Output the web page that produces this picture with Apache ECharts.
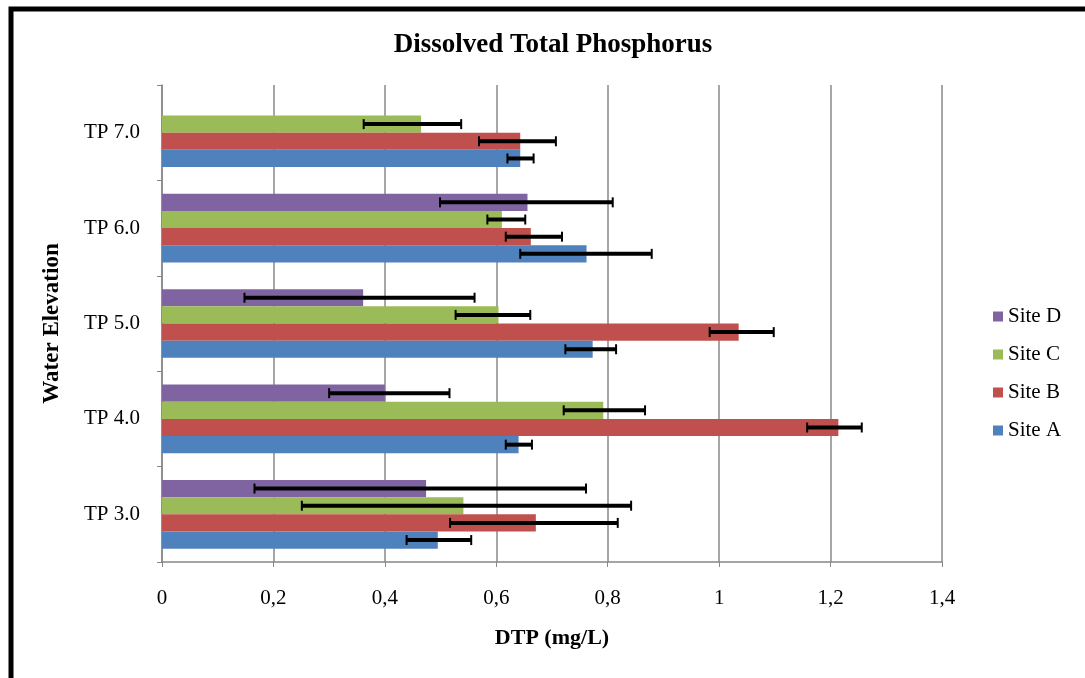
<!DOCTYPE html>
<html>
<head>
<meta charset="utf-8">
<title>Dissolved Total Phosphorus</title>
<script src="https://cdn.jsdelivr.net/npm/echarts@6/dist/echarts.min.js"></script>
<style>
  html, body { margin: 0; padding: 0; background: #fff; }
  #chart { width: 1085px; height: 678px; }
</style>
</head>
<body>
<div id="chart"></div>
<script>
  // categories, bottom to top
  var categories = ['TP 3.0', 'TP 4.0', 'TP 5.0', 'TP 6.0', 'TP 7.0']
  var xTicks = [0, 0.2, 0.4, 0.6, 0.8, 1, 1.2, 1.4]

  // DTP mean values (mg/L)
  var siteA = [0.495, 0.640, 0.773, 0.762, 0.643]
  var siteB = [0.671, 1.214, 1.035, 0.662, 0.643]
  var siteC = [0.541, 0.792, 0.604, 0.610, 0.465]
  var siteD = [0.474, 0.400, 0.361, 0.656, null]

  // error bar ends (low / high)
  var siteALow = [0.439, 0.617, 0.724, 0.643, 0.620]
  var siteAHigh = [0.555, 0.664, 0.815, 0.879, 0.667]
  var siteBLow = [0.517, 1.158, 0.983, 0.617, 0.569]
  var siteBHigh = [0.818, 1.256, 1.098, 0.718, 0.707]
  var siteCLow = [0.251, 0.721, 0.527, 0.584, 0.362]
  var siteCHigh = [0.842, 0.867, 0.661, 0.652, 0.537]
  var siteDLow = [0.166, 0.300, 0.148, 0.499, null]
  var siteDHigh = [0.761, 0.516, 0.561, 0.809, null]

  // top to bottom inside each group (ECharts puts the first bar series on top)
  var sites = [
    {name: 'Site D', color: '#8064A2', values: siteD, low: siteDLow, high: siteDHigh},
    {name: 'Site C', color: '#9BBB59', values: siteC, low: siteCLow, high: siteCHigh},
    {name: 'Site B', color: '#C0504D', values: siteB, low: siteBLow, high: siteBHigh},
    {name: 'Site A', color: '#4F81BD', values: siteA, low: siteALow, high: siteAHigh}
  ]

  var serif = '"Liberation Serif", "DejaVu Serif", serif'
  var groupShare = 0.72 // 1 - barCategoryGap

  function errorRenderer (k) {
    return function (params, api) {
      var cat = api.value(0)
      var p0 = api.coord([api.value(1), cat])
      var p1 = api.coord([api.value(2), cat])
      var band = api.size([0, 1])[1]
      var barW = band * groupShare / sites.length
      var y = p0[1] - band * groupShare / 2 + (k + 0.5) * barW
      var style = {stroke: '#000', lineWidth: 4}
      var capStyle = {stroke: '#000', lineWidth: 2}
      return {
        type: 'group',
        children: [
          {type: 'line', shape: {x1: p0[0], y1: y, x2: p1[0], y2: y}, style: style},
          {type: 'line', shape: {x1: p0[0], y1: y - 5, x2: p0[0], y2: y + 5}, style: capStyle},
          {type: 'line', shape: {x1: p1[0], y1: y - 5, x2: p1[0], y2: y + 5}, style: capStyle}
        ]
      }
    }
  }

  var series = []
  sites.forEach(function (s) {
    series.push({
      name: s.name,
      type: 'bar',
      data: s.values,
      barGap: '0%',
      barCategoryGap: '28%',
      itemStyle: {color: s.color},
      emphasis: {disabled: true}
    })
  })
  sites.forEach(function (s, k) {
    var errData = []
    s.low.forEach(function (lo, i) {
      if (lo !== null) errData.push([i, lo, s.high[i]])
    })
    series.push({
      name: s.name + ' error',
      type: 'custom',
      renderItem: errorRenderer(k),
      encode: {x: [1, 2], y: 0},
      data: errData,
      z: 5,
      silent: true
    })
  })

  var option = {
    backgroundColor: '#fff',
    animation: false,
    title: {
      text: 'Dissolved Total Phosphorus',
      left: 548,
      top: 27,
      textAlign: 'center',
      textStyle: {fontFamily: serif, fontWeight: 'bold', fontSize: 27, color: '#000'}
    },
    legend: {
      data: ['Site D', 'Site C', 'Site B', 'Site A'],
      orient: 'vertical',
      left: 988,
      top: 301,
      icon: 'rect',
      itemWidth: 10,
      itemHeight: 10,
      itemGap: 17,
      textStyle: {fontFamily: serif, fontSize: 21, color: '#000'}
    },
    grid: {left: 162, right: 143, top: 85, bottom: 116},
    xAxis: {
      type: 'value',
      min: 0,
      max: 1.4,
      interval: 0.2,
      name: 'DTP (mg/L)',
      nameLocation: 'middle',
      nameGap: 65,
      nameTextStyle: {fontFamily: serif, fontWeight: 'bold', fontSize: 22, color: '#000'},
      axisLine: {show: true, lineStyle: {color: '#888', width: 1.5}},
      axisTick: {show: true, length: 5, lineStyle: {color: '#888'}},
      axisLabel: {
        fontFamily: serif, fontSize: 21, color: '#000', margin: 26,
        formatter: function (v) { return String(+v.toFixed(1)).replace('.', ',') }
      },
      splitLine: {show: true, lineStyle: {color: '#888', width: 1.5}}
    },
    yAxis: {
      type: 'category',
      data: categories,
      name: 'Water Elevation',
      nameLocation: 'middle',
      nameGap: 98,
      nameRotate: 90,
      nameTextStyle: {fontFamily: serif, fontWeight: 'bold', fontSize: 23, color: '#000'},
      axisLine: {show: true, lineStyle: {color: '#888', width: 1.5}},
      axisTick: {show: true, length: 5, alignWithLabel: false, lineStyle: {color: '#888'}},
      axisLabel: {fontFamily: serif, fontSize: 21, color: '#000', margin: 22}
    },
    graphic: [{
      type: 'rect',
      shape: {x: 11, y: 9, width: 1200, height: 800},
      style: {fill: 'none', stroke: '#000', lineWidth: 5},
      silent: true
    }],
    series: series
  }

  var chart = echarts.init(document.getElementById('chart'))
  chart.setOption(option)
  window.addEventListener('resize', function () {
    chart.resize()
  })
</script>
</body>
</html>
